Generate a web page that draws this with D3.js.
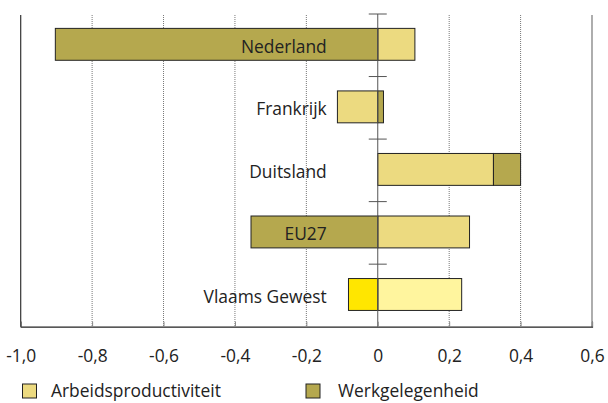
<!DOCTYPE html>
<html>
<head>
<meta charset="utf-8">
<script src="https://cdn.jsdelivr.net/npm/d3@7"></script>
<style>
  body { margin: 0; background: #fff; }
  text { font-family: "Open Sans", sans-serif; fill: #222; }
</style>
</head>
<body>
<svg></svg>
<script>
const w = 608;
const h = 403;

// data
const categories = ['Nederland', 'Frankrijk', 'Duitsland', 'EU27', 'Vlaams Gewest'];
const arbeidsproductiviteit = [0.104, -0.113, 0.324, 0.257, 0.235];
const werkgelegenheid = [-0.903, 0.016, 0.076, -0.355, -0.082];
const ticks = [-1.0, -0.8, -0.6, -0.4, -0.2, 0, 0.2, 0.4, 0.6];
const seriesNames = ['Arbeidsproductiviteit', 'Werkgelegenheid'];

const colLight = '#ecda80';
const colDark = '#b5a84e';
const colVlLight = '#fff59e';
const colVlDark = '#ffe600';

const pLeft = 20.7, pRight = 592, pTop = 14, pBottom = 326.7;
const fs = '17.4px';

const svg = d3.select('svg')
    .attr('width', w)
    .attr('height', h);

const x = d3.scaleLinear()
    .domain([-1, 0.6])
    .range([pLeft, pRight]);

const y = d3.scaleBand()
    .domain(categories)
    .range([pTop, pBottom])
    .padding(0);

// dotted grid
svg.append('g')
    .selectAll('line')
    .data(ticks.filter(t => t > -1 && t < 0.6 && t !== 0))
    .enter()
    .append('line')
    .attr('x1', d => x(d)).attr('x2', d => x(d))
    .attr('y1', pTop + 1).attr('y2', pBottom)
    .attr('stroke', '#555')
    .attr('stroke-width', 0.8)
    .attr('stroke-dasharray', '1,1');

// borders
svg.append('line')
    .attr('x1', pLeft).attr('x2', pLeft)
    .attr('y1', pTop + 1).attr('y2', pBottom)
    .attr('stroke', '#333').attr('stroke-width', 1.2);
svg.append('line')
    .attr('x1', pRight).attr('x2', pRight)
    .attr('y1', pTop + 1).attr('y2', pBottom)
    .attr('stroke', '#777').attr('stroke-width', 1.2);

// stack segments per category
const segs = [];
categories.forEach((c, i) => {
    let pos = 0, neg = 0;
    const vals = [arbeidsproductiviteit[i], werkgelegenheid[i]];
    vals.forEach((v, s) => {
        let x0, x1;
        if (v >= 0) { x0 = pos; x1 = pos + v; pos = x1; }
        else { x0 = neg + v; x1 = neg; neg = x0; }
        const vl = c === 'Vlaams Gewest';
        const fill = s === 0 ? (vl ? colVlLight : colLight) : (vl ? colVlDark : colDark);
        segs.push({ c, x0, x1, fill });
    });
});

svg.append('g')
    .selectAll('rect')
    .data(segs)
    .enter()
    .append('rect')
    .attr('x', d => x(d.x0))
    .attr('width', d => x(d.x1) - x(d.x0))
    .attr('y', d => y(d.c) + y.bandwidth() * 0.23)
    .attr('height', y.bandwidth() * 0.51)
    .attr('fill', d => d.fill)
    .attr('stroke', '#222')
    .attr('stroke-width', 1);

// zero line with small ticks between categories
svg.append('line')
    .attr('x1', x(0)).attr('x2', x(0))
    .attr('y1', pTop).attr('y2', pBottom)
    .attr('stroke', '#555').attr('stroke-width', 1);
svg.append('g')
    .selectAll('line')
    .data(categories)
    .enter()
    .append('line')
    .attr('x1', x(0) - 9).attr('x2', x(0) + 9)
    .attr('y1', d => y(d)).attr('y2', d => y(d))
    .attr('stroke', '#555').attr('stroke-width', 1);

// category labels
svg.append('g')
    .selectAll('text')
    .data(categories)
    .enter()
    .append('text')
    .attr('x', x(0) - 51)
    .attr('y', d => y(d) + 38.5)
    .attr('text-anchor', 'end')
    .style('font-size', fs)
    .text(d => d);

// x axis
const xAxis = d3.axisBottom(x)
    .tickValues(ticks)
    .tickSize(-5)
    .tickPadding(0)
    .tickFormat(d => d === 0 ? '0' : d.toFixed(1).replace('.', ','));

const gx = svg.append('g')
    .attr('transform', 'translate(0,' + pBottom + ')')
    .call(xAxis);
gx.select('.domain').attr('stroke', '#222').attr('stroke-width', 1.2);
gx.selectAll('.tick line').attr('stroke', '#888');
gx.selectAll('.tick text')
    .attr('y', 35)
    .attr('dy', 0)
    .style('font-size', fs)
    .style('font-family', '"Open Sans", sans-serif')
    .attr('fill', '#222');

// legend
const legendX = [22.5, 306];
const lg = svg.append('g')
    .selectAll('g')
    .data(seriesNames)
    .enter()
    .append('g')
    .attr('transform', (d, i) => 'translate(' + legendX[i] + ',384)');
lg.append('rect')
    .attr('width', 14).attr('height', 14)
    .attr('fill', (d, i) => i === 0 ? colLight : colDark)
    .attr('stroke', '#222').attr('stroke-width', 1);
lg.append('text')
    .attr('x', (d, i) => i === 0 ? 28.5 : 32)
    .attr('y', 13)
    .style('font-size', fs)
    .text(d => d);
</script>
</body>
</html>
